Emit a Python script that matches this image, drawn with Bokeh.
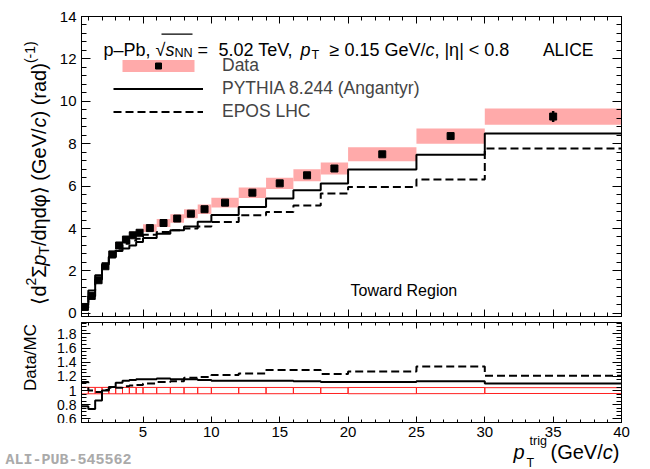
import numpy as np
from bokeh.plotting import figure
from bokeh.models import (Range1d, LinearAxis, FixedTicker, Label, Legend, LegendItem,
                          CustomJSTickFormatter, BoxAnnotation)
from bokeh.layouts import column, row
from bokeh.embed import file_html
from bokeh.resources import INLINE
from bokeh.core.properties import value

# ---------------- data ----------------
bin_edges = [0.5, 1, 1.5, 2, 2.5, 3, 3.5, 4, 4.5, 5, 6, 7, 8, 9, 10, 12, 14, 16, 18, 20, 25, 30, 40]
data_val = [0.30, 0.82, 1.56, 2.22, 2.78, 3.20, 3.48, 3.68, 3.80, 4.02, 4.26, 4.47, 4.70, 4.91,
            5.22, 5.69, 6.13, 6.51, 6.83, 7.50, 8.36, 9.28]
data_stat = [0.02, 0.02, 0.02, 0.02, 0.02, 0.02, 0.02, 0.02, 0.02, 0.02, 0.02, 0.02, 0.03, 0.03,
             0.03, 0.03, 0.04, 0.05, 0.06, 0.08, 0.15, 0.26]
data_sys = [0.014, 0.037, 0.07, 0.10, 0.125, 0.145, 0.155, 0.165, 0.17, 0.18, 0.19, 0.20, 0.21, 0.22,
            0.23, 0.25, 0.27, 0.28, 0.28, 0.33, 0.36, 0.38]
pythia_val = [0.38, 1.08, 1.79, 2.30, 2.65, 2.94, 3.06, 3.20, 3.36, 3.55, 3.75, 3.92, 4.10, 4.32,
              4.64, 5.01, 5.41, 5.80, 6.12, 6.78, 7.48, 8.48]
epos_val = [0.27, 0.81, 1.59, 2.20, 2.67, 3.05, 3.28, 3.44, 3.52, 3.70, 3.84, 3.92, 4.00, 4.10,
            4.31, 4.62, 4.78, 5.09, 5.65, 5.96, 6.31, 7.77]
ratio_pythia = [0.78, 0.74, 0.86, 1.00, 1.05, 1.11, 1.14, 1.15, 1.16, 1.16, 1.17, 1.16, 1.16, 1.15,
                1.14, 1.14, 1.14, 1.13, 1.12, 1.12, 1.13, 1.10]
ratio_epos = [1.12, 1.00, 0.98, 1.01, 1.04, 1.04, 1.06, 1.07, 1.08, 1.10, 1.12, 1.13, 1.18, 1.19,
              1.22, 1.24, 1.29, 1.29, 1.235, 1.27, 1.34, 1.21]

x_major = [5, 10, 15, 20, 25, 30, 35, 40]
x_labels = ["5", "10", "15", "20", "25", "30", "35", "40"]
y_major = [0, 2, 4, 6, 8, 10, 12, 14]
r_major = [0.6, 0.8, 1.0, 1.2, 1.4, 1.6, 1.8]

FONT = "Liberation Sans"
PINK = "#ffaaaa"
XMIN, XMAX = 0.5, 40.0

edges = np.array(bin_edges, dtype=float)
lo, hi = edges[:-1], edges[1:]
ctr = 0.5 * (lo + hi)
dv = np.array(data_val); ds = np.array(data_sys); de = np.array(data_stat)


def steps(vals):
    return np.repeat(edges, 2)[1:-1], np.repeat(np.asarray(vals, dtype=float), 2)


# character widths (per 1000 em) for Liberation Sans (Arial metrics)
W = {' ': 278, '(': 333, ')': 333, '/': 278, '.': 278, ',': 278, '-': 333, '|': 260, '<': 584,
     '=': 584, '≥': 549, '√': 549, '–': 556, '⟨': 390, '⟩': 390, 'Σ': 600, 'η': 559, 'φ': 700,
     'T': 611, 'G': 778, 'V': 667, 'P': 667, 'M': 833, 'C': 722, 'D': 722, 'A': 667, 'L': 556,
     'I': 278, 'E': 667, 'N': 722, 'c': 500, 'r': 333, 't': 278, 'i': 222, 's': 500, 'b': 556,
     'g': 556, 'a': 556, 'd': 556, 'e': 556, 'p': 556}


def tw(s, size):
    return sum(W.get(ch, 556) for ch in s) / 1000.0 * size


def make_fig(yr, fh, mb_top, mb_bot):
    p = figure(x_range=Range1d(XMIN, XMAX), y_range=yr, frame_width=540, frame_height=fh,
               output_backend="svg", toolbar_location=None, min_border_left=29,
               min_border_right=29, min_border_top=mb_top, min_border_bottom=mb_bot)
    p.grid.visible = False
    p.outline_line_color = "black"
    p.outline_line_width = 1
    p.background_fill_color = "white"
    p.border_fill_color = "white"
    return p


def text_fig(w, h, xr=(0, 1), yr=(0, 1)):
    p = figure(x_range=Range1d(*xr), y_range=Range1d(*yr), frame_width=w, frame_height=h,
               output_backend="svg", toolbar_location=None, min_border=0,
               x_axis_location=None, y_axis_location=None)
    p.grid.visible = False
    p.outline_line_color = None
    p.background_fill_color = "white"
    p.border_fill_color = "white"
    return p


def style(ax, maj, mnr, labels=True, size="15px", standoff=5):
    ax.major_tick_in = maj
    ax.major_tick_out = 0
    ax.minor_tick_in = mnr
    ax.minor_tick_out = 0
    ax.axis_line_color = "black"
    ax.major_tick_line_color = "black"
    ax.minor_tick_line_color = "black"
    ax.major_label_text_font = FONT
    ax.major_label_text_font_size = size
    if labels:
        ax.major_label_text_color = "black"
        ax.major_label_standoff = standoff
    else:
        ax.major_label_text_color = None
        ax.major_label_standoff = 0


def lab(fig, fl, fb, text, px, py, size, italic=False, angle=0.0, align="left",
        baseline="alphabetic", color="black", font=FONT, bold=False):
    style_ = "italic" if italic else ("bold" if bold else "normal")
    fig.add_layout(Label(x=px - fl, y=fb - py, x_units="screen", y_units="screen", text=text,
                         text_font=font, text_font_size=f"{size}px", text_font_style=style_,
                         text_color=color, angle=angle, text_align=align,
                         text_baseline=baseline))


def compose(fig, fl, fb, pieces, px, py, angle=0.0):
    adv = 0.0
    for text, size, italic, rise in pieces:
        if angle == 0:
            lab(fig, fl, fb, text, px + adv, py - rise, size, italic)
        else:
            lab(fig, fl, fb, text, px - rise, py - adv, size, italic, angle=angle)
        adv += tw(text, size)
    return adv


# page geometry (pixels from the top-left of the picture)
FL, FB1 = 81, 316          # main frames: left edge; bottom of the top frame
LW = 52                    # width of the left title strip
TOP_H = 16 + 300 + 6       # 322
RAT_H = 0 + 100 + 1        # 101
BOT_H = 469 - TOP_H - RAT_H  # 46

# ---------------- top panel ----------------
p1 = make_fig(Range1d(-0.15, 14), 300, 16, 6)
xt = FixedTicker(ticks=x_major, minor_ticks=list(range(1, 41)))
yt = FixedTicker(ticks=y_major, minor_ticks=[round(0.4 * i, 2) for i in range(36)])
p1.xaxis.ticker = xt
p1.yaxis.ticker = yt
style(p1.xaxis[0], 7, 4, labels=False)
style(p1.yaxis[0], 9, 5, labels=True, size="15px", standoff=5)
ax_top = LinearAxis(ticker=xt)
style(ax_top, 7, 4, labels=False)
p1.add_layout(ax_top, "above")
ax_r = LinearAxis(ticker=yt)
style(ax_r, 9, 5, labels=False)
p1.add_layout(ax_r, "right")

band = p1.quad(left=lo, right=hi, bottom=dv - ds, top=dv + ds, fill_color=PINK, line_color=None)
xs, ys = steps(pythia_val)
l_py = p1.line(xs, ys, line_color="black", line_width=2)
xs, ys = steps(epos_val)
l_ep = p1.line(xs, ys, line_color="black", line_width=2, line_dash="8 4")
p1.segment(x0=ctr, y0=dv - de, x1=ctr, y1=dv + de, line_color="black", line_width=2.5)
mk = p1.scatter(ctr, dv, marker="square", size=7, fill_color="black", line_color="black")

leg = Legend(items=[LegendItem(label="Data", renderers=[band, mk]),
                    LegendItem(label="PYTHIA 8.244 (Angantyr)", renderers=[l_py]),
                    LegendItem(label="EPOS LHC", renderers=[l_ep])],
             location=(32, 194), glyph_width=90, glyph_height=15, label_standoff=19,
             spacing=2, padding=0, margin=0, border_line_alpha=0, background_fill_alpha=0,
             label_text_font=FONT, label_text_font_size="17.5px", label_height=20)
p1.add_layout(leg)

# header
H = 18
S = 12.6
lab(p1, FL, FB1, "p–Pb, √", 103, 49, H)
compose(p1, FL, FB1, [("s", H, True, 0)], 103 + tw("p–Pb, √", H), 49)
lab(p1, FL, FB1, "NN", 103 + tw("p–Pb, √", H) + tw("s", H), 52, S)
p1.add_layout(BoxAnnotation(left=161 - FL, right=192 - FL, top=FB1 - 33, bottom=FB1 - 34.2,
                            left_units="screen", right_units="screen", top_units="screen",
                            bottom_units="screen", fill_color="black", fill_alpha=1,
                            line_color=None))
lab(p1, FL, FB1, "=", 197, 49, H)
lab(p1, FL, FB1, "5.02 TeV,", 218, 49, H)
lab(p1, FL, FB1, "p", 300, 49, H, italic=True)
lab(p1, FL, FB1, "T", 300 + tw("p", H) + 1, 54, S)
compose(p1, FL, FB1, [("≥ 0.15 GeV/", H, False, 0), ("c", H, True, 0),
                      (", |η| < 0.8", H, False, 0)], 329, 49)
lab(p1, FL, FB1, "ALICE", 593, 49, 17.5, align="right")
lab(p1, FL, FB1, "Toward Region", 350, 290, 16)

# ---------------- ratio panel ----------------
p2 = make_fig(Range1d(0.55, 1.96), 100, 0, 1)
rt = FixedTicker(ticks=r_major, minor_ticks=[round(0.55 + 0.05 * i, 2) for i in range(29)])
p2.xaxis.ticker = xt
p2.yaxis.ticker = rt
style(p2.xaxis[0], 6, 3, labels=False)
style(p2.yaxis[0], 9, 5, labels=True, size="14px", standoff=5)
p2.yaxis[0].formatter = CustomJSTickFormatter(code="return tick.toFixed(1).replace(/\\.0$/, '');")
ax_top2 = LinearAxis(ticker=xt)
style(ax_top2, 6, 3, labels=False)
p2.add_layout(ax_top2, "above")
ax_r2 = LinearAxis(ticker=rt)
style(ax_r2, 9, 5, labels=False)
p2.add_layout(ax_r2, "right")

p2.quad(left=lo, right=hi, bottom=1 - ds / dv, top=1 + ds / dv, fill_color=None,
        line_color="#ff2020", line_width=1)
xs, ys = steps(ratio_pythia)
p2.line(xs, ys, line_color="black", line_width=2)
xs, ys = steps(ratio_epos)
p2.line(xs, ys, line_color="black", line_width=2, line_dash="8 4")

# ---------------- left title strip ----------------
L = text_fig(LW, TOP_H + RAT_H)
LB = TOP_H + RAT_H
YS = 20
YSS = 14
compose(L, 0, LB, [("⟨d", YS, False, 0), ("2", YSS, False, 8), ("Σ", YS, False, 0),
                   ("p", YS, True, 0), ("T", YSS, False, -5), ("/dηdφ⟩ (GeV/", YS, False, 0),
                   ("c", YS, True, 0), (") (rad)", YS, False, 0), ("(-1)", YSS, False, 9)],
        38, 304, angle=np.pi / 2)
lab(L, 0, LB, "Data/MC", 30, 357, 17, angle=np.pi / 2, align="center", baseline="middle")

# ---------------- bottom strip: x tick labels and x title ----------------
ppu = 540.0 / (XMAX - XMIN)
B = text_fig(650, BOT_H, xr=(XMIN - FL / ppu, XMAX + (650 - 621) / ppu), yr=(0, BOT_H))
B.text(x=x_major, y=[BOT_H - 8] * len(x_major), text=x_labels, text_font=value(FONT),
       text_font_size=value("15px"), text_align="center", text_baseline="middle",
       text_color="black")
BB = 469
XS = 20
XSS = 12.5
lab(B, 0, BB, "p", 513, 451, XS, italic=True)
lab(B, 0, BB, "trig", 529, 440, XSS)
lab(B, 0, BB, "T", 526, 462, XSS)
compose(B, 0, BB, [("(GeV/", XS, False, 0), ("c", XS, True, 0), (")", XS, False, 0)], 550, 451)
lab(B, 0, BB, "ALI-PUB-545562", 5, 460, 15, color="#aaaaaa", font="Liberation Mono", bold=True)

layout = column(row(L, column(p1, p2, spacing=0), spacing=0), B, spacing=0)
open("out.html", "w").write(file_html(layout, INLINE))
